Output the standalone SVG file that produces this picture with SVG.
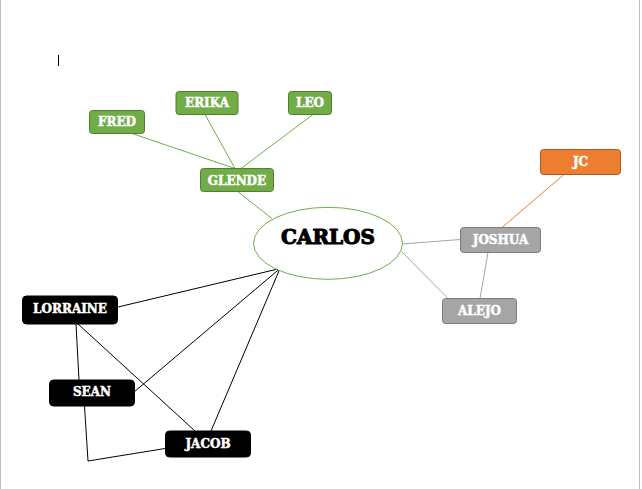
<svg xmlns="http://www.w3.org/2000/svg" width="642" height="489" viewBox="0 0 642 489">
<style>
.lbl{font-family:"DejaVu Serif","Liberation Serif",serif;font-weight:bold;font-size:12px;fill:#fff;text-anchor:middle;stroke:#fff;stroke-width:0.5}
.g rect{fill:#70AD47;stroke:#507E32;stroke-width:1}
.gr rect{fill:#A5A5A5;stroke:#7B7B7B;stroke-width:1}
.o rect{fill:#ED7D31;stroke:#AE5A21;stroke-width:1}
.k rect{fill:#000;stroke:#000;stroke-width:1}
.cg{stroke:#70AD47;stroke-width:1;fill:none}
.cgr{stroke:#A5A5A5;stroke-width:1;fill:none}
.co{stroke:#ED7D31;stroke-width:1;fill:none}
.ck{stroke:#000;stroke-width:1;fill:none}
</style>
<rect x="0" y="0" width="642" height="489" fill="#fff"/>
<line x1="0.5" y1="0" x2="0.5" y2="489" stroke="#BFBFBF"/>
<line x1="639.5" y1="0" x2="639.5" y2="489" stroke="#BFBFBF"/>
<line x1="58.5" y1="55" x2="58.5" y2="66" stroke="#000"/>
<g id="connectors">
<line class="cg" x1="132" y1="133.5" x2="235" y2="168.5"/>
<line class="cg" x1="205" y1="114.5" x2="235" y2="168.5"/>
<line class="cg" x1="313" y1="114.5" x2="241" y2="168.5"/>
<line class="cg" x1="237" y1="191" x2="272" y2="218.5"/>
<line class="co" x1="564" y1="174.5" x2="502" y2="227.5"/>
<line class="cgr" x1="402" y1="244" x2="460" y2="239.5"/>
<line class="cgr" x1="401.5" y1="251.5" x2="448" y2="298.5"/>
<line class="cgr" x1="488" y1="252.5" x2="480" y2="298.5"/>
<line class="ck" x1="280" y1="268.5" x2="118" y2="307"/>
<line class="ck" x1="280" y1="268.5" x2="134" y2="392"/>
<line class="ck" x1="280" y1="268.5" x2="211" y2="431"/>
<line class="ck" x1="76" y1="324" x2="79" y2="380"/>
<line class="ck" x1="78" y1="324" x2="195" y2="431"/>
<polyline class="ck" points="84.5,406 88,461 165,448.5"/>
</g>
<g id="carlos">
<ellipse cx="328" cy="243.3" rx="74.5" ry="36" fill="#fff" stroke="#70AD47" stroke-width="1"/>
<text x="328" y="243.5" class="lbl" style="font-size:20px;fill:#000;stroke:#000;stroke-width:1.1">CARLOS</text>
</g>
<g id="fred" class="g"><rect x="89.5" y="110.5" width="55" height="23" rx="3"/><text x="117" y="126" class="lbl">FRED</text></g>
<g id="erika" class="g"><rect x="176" y="91.5" width="62" height="23" rx="3"/><text x="207" y="107" class="lbl">ERIKA</text></g>
<g id="leo" class="g"><rect x="288.5" y="91.5" width="43" height="23" rx="3"/><text x="310" y="107" class="lbl">LEO</text></g>
<g id="glende" class="g"><rect x="200.5" y="168.5" width="73" height="23" rx="3"/><text x="237" y="184.5" class="lbl">GLENDE</text></g>
<g id="jc" class="o"><rect x="540.5" y="149.5" width="80" height="25" rx="3"/><text x="580.5" y="166" class="lbl">JC</text></g>
<g id="joshua" class="gr"><rect x="460.5" y="227.5" width="80" height="25" rx="3"/><text x="500.5" y="244" class="lbl">JOSHUA</text></g>
<g id="alejo" class="gr"><rect x="442.5" y="298.5" width="74" height="25" rx="3"/><text x="479.5" y="315" class="lbl">ALEJO</text></g>
<g id="lorraine" class="k"><rect x="22.5" y="296" width="95" height="28" rx="4"/><text x="70" y="312.5" class="lbl">LORRAINE</text></g>
<g id="sean" class="k"><rect x="49.5" y="380" width="85" height="26" rx="4"/><text x="92" y="396" class="lbl">SEAN</text></g>
<g id="jacob" class="k"><rect x="165.5" y="431" width="85" height="26" rx="4"/><text x="208" y="447.5" class="lbl">JACOB</text></g>
</svg>
